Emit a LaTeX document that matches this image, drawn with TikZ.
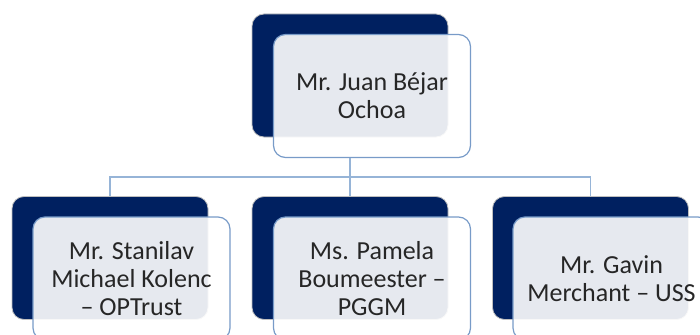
\documentclass[tikz,border=0pt]{standalone}
\usepackage{fontspec}
\setmainfont{Carlito}
\usepackage{xcolor}
\definecolor{navy}{RGB}{0,32,96}
\definecolor{edgeblue}{RGB}{120,155,200}
\definecolor{linkblue}{RGB}{150,180,215}

\begin{document}
\begin{tikzpicture}[
    x=1pt, y=-1pt,
    font=\fontsize{26}{28}\selectfont,
    back/.style={
        rectangle,
        rounded corners=12pt,
        draw=black!25,
        line width=0.8pt,
        fill=navy,
        minimum width=196pt,
        minimum height=123pt,
        inner sep=0pt
    },
    card/.style={
        rectangle,
        rounded corners=12pt,
        draw=edgeblue,
        line width=1.2pt,
        fill=white,
        fill opacity=0.9,
        text opacity=1,
        text=black!85,
        align=center,
        minimum width=197pt,
        minimum height=123pt,
        inner sep=2pt
    },
    link/.style={draw=linkblue, line width=1.6pt}
]
\useasboundingbox (0,0) rectangle (700,334);
\clip (0,0) rectangle (700,334);

% =========================================================
% Connectors
% =========================================================
\coordinate (bus) at (350,177);

% =========================================================
% Top
% =========================================================
\node[back] (topdark) at (350,75.5) {};

% =========================================================
% Bottom row
% =========================================================
\node[back] (onedark) at (110,258) {};
\node[back] (twodark) at (350,258) {};
\node[back] (threedark) at (590.5,258) {};

\node[card] (toplight) at (372,96) {Mr. Juan Béjar\\Ochoa};
\draw[link] (toplight.south -| topdark.south) -- (bus);
\draw[link] (bus) -| (onedark.north);
\draw[link] (bus) -- (twodark.north);
\draw[link] (bus) -| (threedark.north);

\node[card] (onelight) at (131.5,278.5) {Mr. Stanilav\\Michael Kolenc\\– OPTrust};
\node[card] (twolight) at (372,278.5) {Ms. Pamela\\Boumeester –\\PGGM};
\node[card] (threelight) at (611.5,278.5) {Mr. Gavin\\Merchant – USS};

\end{tikzpicture}
\end{document}
